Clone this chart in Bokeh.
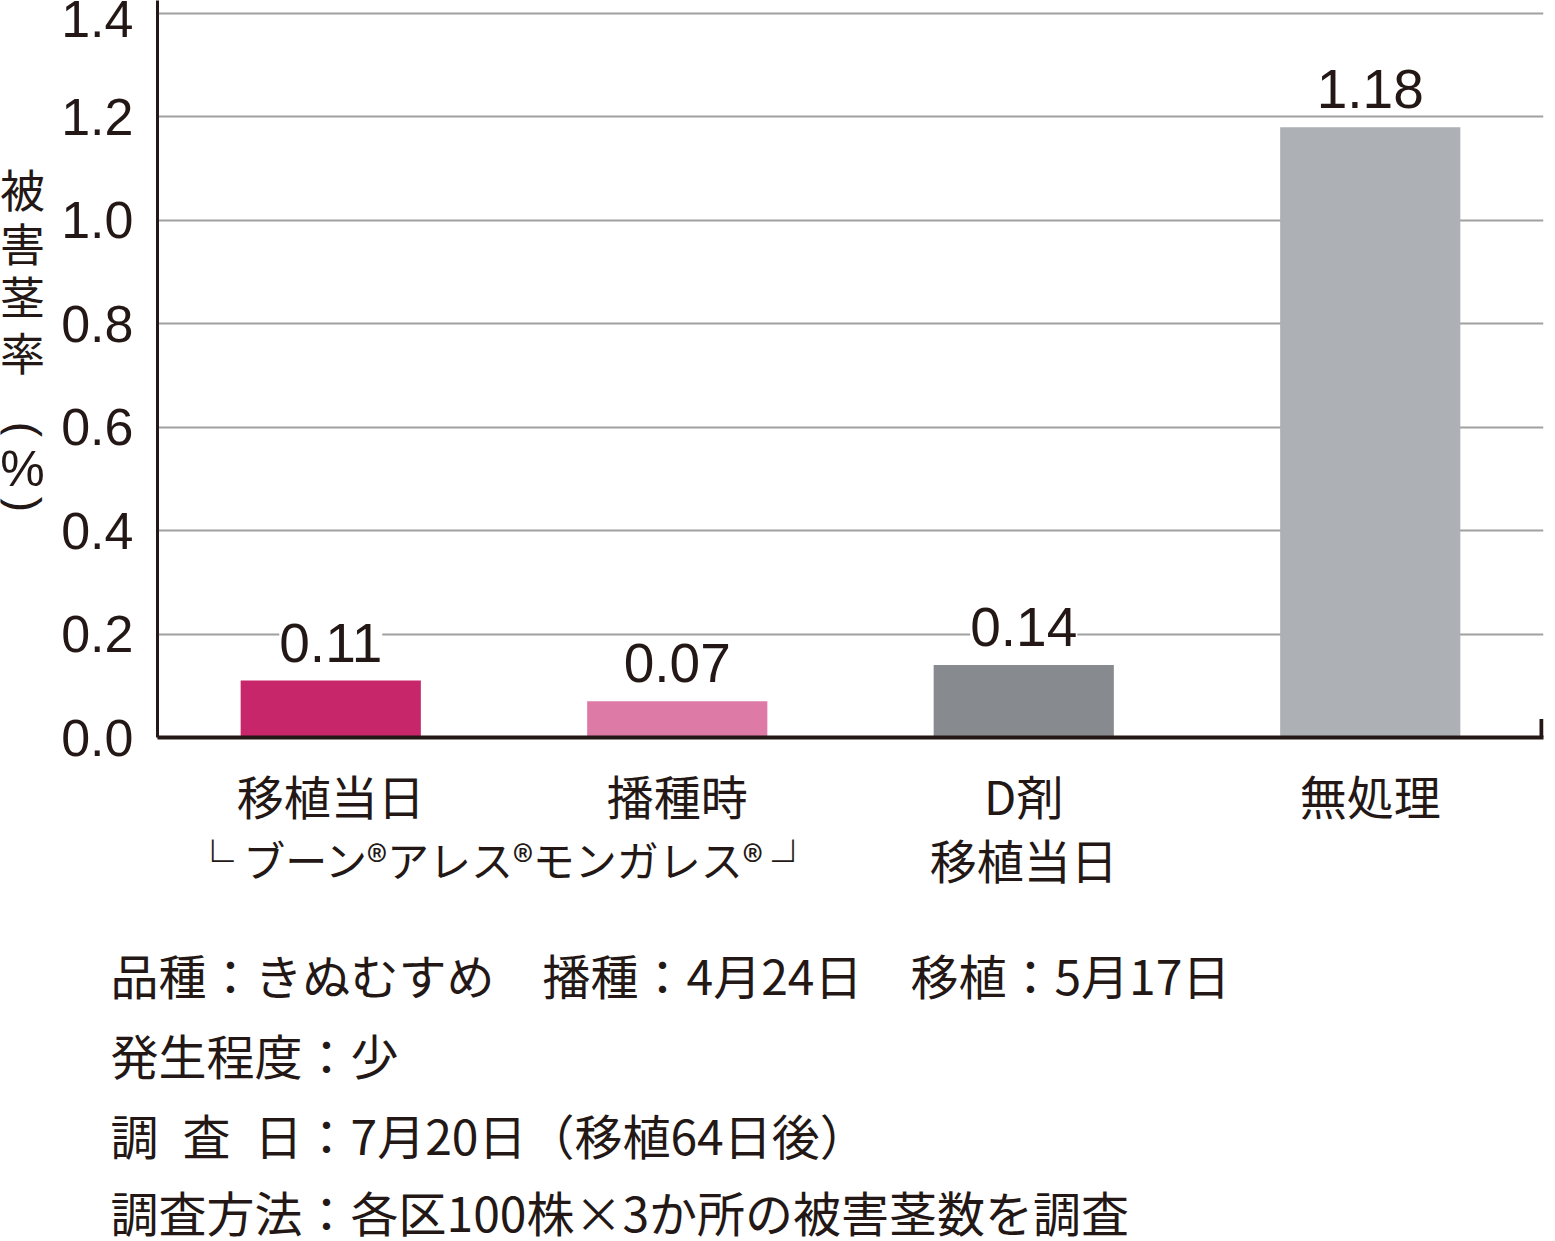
from bokeh.plotting import figure
from bokeh.layouts import column, row
from bokeh.models import (ColumnDataSource, FactorRange, Range1d, LabelSet,
                          FixedTicker, NumeralTickFormatter)
from bokeh.embed import file_html
from bokeh.resources import INLINE
from bokeh.core.properties import value
import math

# ---------------- data ----------------
categories = ["移植当日", "播種時", "D剤", "無処理"]
sub_labels = ["", "", "移植当日", ""]
rates = [0.11, 0.07, 0.14, 1.18]
bar_colors = ["#C7266A", "#DD7BA6", "#878A8E", "#ADB0B4"]
y_ticks = [0.0, 0.2, 0.4, 0.6, 0.8, 1.0, 1.2, 1.4]
product_note = "└ ブーン®アレス®モンガレス® ┘"
y_title_chars = ["被", "害", "茎", "率"]
notes = [
    "品種：きぬむすめ　播種：4月24日　移植：5月17日",
    "発生程度：少",
    "調\u2002査\u2002日：7月20日（移植64日後）",
    "調査方法：各区100株×3か所の被害茎数を調査",
]

# ---------------- layout constants (page pixels) ----------------
INK = "#231815"
CJK = "Noto Sans CJK JP"
LAT = "Liberation Sans"
W, H = 1555, 1241
TITLE_W = 52          # left strip holding the vertical y title
FL = 157              # frame left
FRAME_W = 1386
CAT_W = FRAME_W / len(categories)
FB = 737              # frame bottom (y = 0)
ROW_A = 834           # bottom of the chart row (includes category labels)
PXY = 724 / 1.4       # px per y unit


# ---------------- left strip: vertical y-axis title ----------------
ttl = figure(width=TITLE_W, height=ROW_A,
             x_range=Range1d(0, TITLE_W), y_range=Range1d(-FB, 0),
             x_axis_location=None, y_axis_location=None,
             min_border_left=0, min_border_right=0, min_border_top=0,
             min_border_bottom=ROW_A - FB,
             output_backend="svg", toolbar_location=None)
ttl.outline_line_color = None
ttl.xgrid.visible = False
ttl.ygrid.visible = False
ttl.text(x=[22] * 4, y=[-188, -242, -295, -351], text=y_title_chars,
         text_font=value(CJK), text_font_size="45px", text_color=INK,
         text_align="center", text_baseline="middle")
ttl.text(x=[23, 23], y=[-429, -504], text=["(", ")"], angle=-math.pi / 2,
         text_font=value(LAT), text_font_size="46px", text_color=INK,
         text_align="center", text_baseline="middle")
ttl.text(x=[22], y=[-468], text=["%"],
         text_font=value(LAT), text_font_size="50px", text_color=INK,
         text_align="center", text_baseline="middle")

# ---------------- main chart ----------------
xr = FactorRange(*categories, range_padding=0)
main_w = W - TITLE_W
p = figure(
    width=main_w, height=ROW_A,
    x_range=xr, y_range=Range1d(0, FB / PXY),
    frame_width=FRAME_W, frame_height=FB,
    min_border_left=FL - TITLE_W, min_border_right=main_w - (FL - TITLE_W) - FRAME_W,
    min_border_top=0, min_border_bottom=ROW_A - FB,
    output_backend="svg", toolbar_location=None,
)
p.outline_line_color = None

src = ColumnDataSource(dict(cat=categories, rate=rates, color=bar_colors,
                            label=[f"{v:.2f}" for v in rates]))
p.vbar(x="cat", top="rate", width=0.52, bottom=0, color="color",
       line_color=None, source=src)

p.xgrid.visible = False
p.ygrid.ticker = FixedTicker(ticks=y_ticks)
p.ygrid.grid_line_color = "#9FA0A0"
p.ygrid.grid_line_width = 2

p.yaxis.ticker = FixedTicker(ticks=y_ticks)
p.yaxis.formatter = NumeralTickFormatter(format="0.0")
p.yaxis.major_tick_line_color = None
p.yaxis.major_tick_out = 0
p.yaxis.minor_tick_line_color = None
p.yaxis.axis_line_color = INK
p.yaxis.axis_line_width = 3
p.yaxis.major_label_standoff = 24
p.yaxis.major_label_text_font = LAT
p.yaxis.major_label_text_font_size = "52px"
p.yaxis.major_label_text_color = INK

p.xaxis.axis_line_color = INK
p.xaxis.axis_line_width = 4
p.xaxis.major_tick_line_color = None
p.xaxis.major_tick_out = 0
p.xaxis.minor_tick_line_color = None
p.xaxis.major_label_standoff = 22
p.xaxis.major_label_text_font = CJK
p.xaxis.major_label_text_font_size = "47px"
p.xaxis.major_label_text_color = INK

# right end tick of the x axis
edge_x = len(categories) - 2.0 / CAT_W
p.segment(x0=[edge_x], x1=[edge_x], y0=[0], y1=[0.036],
          line_color=INK, line_width=4)

p.add_layout(LabelSet(x="cat", y="rate", text="label", source=src,
                      text_font=value(LAT), text_font_size="55px",
                      text_color=INK, text_align="center",
                      text_baseline="alphabetic", y_offset=19,
                      background_fill_color="white"))

# ---------------- lower block: second label line, bracket note, notes ----------------
nts = figure(width=W, height=H - ROW_A,
             x_range=Range1d(0, W), y_range=Range1d(-H, -ROW_A),
             x_axis_location=None, y_axis_location=None,
             min_border_left=0, min_border_right=0, min_border_top=0,
             min_border_bottom=0,
             output_backend="svg", toolbar_location=None)
nts.outline_line_color = None
nts.xgrid.visible = False
nts.ygrid.visible = False

sub_x = [FL + (i + 0.5) * CAT_W for i in range(len(categories))]
nts.text(x=sub_x, y=[-858] * len(categories), text=sub_labels,
         text_font=value(CJK), text_font_size="47px", text_color=INK,
         text_align="center", text_baseline="middle")
# bracket note centred on the boundary between the first two categories
nts.text(x=[FL + CAT_W], y=[-858], text=[product_note],
         text_font=value(CJK), text_font_size="42px", text_color=INK,
         text_align="center", text_baseline="middle")
nts.text(x=[110] * len(notes), y=[-973, -1053, -1133, -1210], text=notes,
         text_font=value(CJK), text_font_size="48px", text_color=INK,
         text_align="left", text_baseline="middle")

layout = column(row(ttl, p), nts)
open("out.html", "w").write(file_html(layout, INLINE))
